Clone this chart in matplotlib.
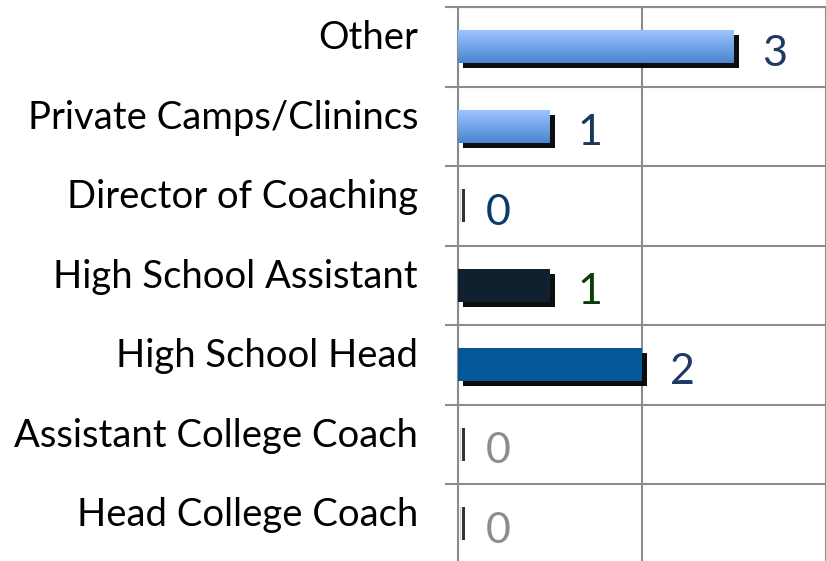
import matplotlib
matplotlib.use("Agg")
import matplotlib.pyplot as plt
import matplotlib.patheffects as pe
import numpy as np
from matplotlib.colors import LinearSegmentedColormap

# data (bottom to top)
categories = ["Head College Coach", "Assistant College Coach", "High School Head",
              "High School Assistant", "Director of Coaching",
              "Private Camps/Clinincs", "Other"]
values = [0, 0, 2, 1, 0, 1, 3]

# styling
bar_colors = ["#333333", "#333333", "#035899", "#11202E", "#333333", "gradient", "gradient"]
label_colors = ["#8C8C8C", "#8C8C8C", "#1F3864", "#0B3D0B", "#0B3A6E", "#17375E", "#1F3864"]

plt.rcParams["font.family"] = ["Lato", "DejaVu Sans"]

fig = plt.figure(figsize=(8.26, 5.61), dpi=100)
ax = fig.add_axes([458 / 826, -2.5 / 561, 368 / 826, 556.5 / 561])

y = np.arange(len(categories))
h = 0.41
grad = LinearSegmentedColormap.from_list("g", ["#9CC3FF", "#4A86D0"])
shadow = [pe.SimplePatchShadow(offset=(3.8, -3.6), shadow_rgbFace="black", alpha=0.95),
          pe.Normal()]

for yi, v, c in zip(y, values, bar_colors):
    if v == 0:
        # zero bars only show a thin shadow stub
        ax.barh(yi, 0.012, left=0.025, height=h, color="#D0D0D0", zorder=3)
        ax.barh(yi, 0.035, left=0.045, height=h, color="#333333", zorder=3)
        continue
    fc = "#4A86D0" if c == "gradient" else c
    b = ax.barh(yi, v, height=h, color=fc, zorder=3)
    b[0].set_path_effects(shadow)
    if c == "gradient":
        g = np.linspace(0, 1, 64).reshape(-1, 1)
        ax.imshow(g, cmap=grad, aspect="auto", zorder=4,
                  extent=(0, v, yi - h / 2, yi + h / 2), interpolation="bilinear")

for yi, v, lc in zip(y, values, label_colors):
    ax.annotate(str(v), (v, yi), xytext=(20, -5), textcoords="offset points",
                ha="left", va="center", fontsize=31, color=lc, zorder=5)

for yi, cat in zip(y, categories):
    ax.text(-40 / 368, yi + 0.11, cat, transform=ax.get_yaxis_transform(),
            ha="right", va="center", fontsize=27.5, color="black")

ax.set_xlim(0, 4)
ax.set_ylim(-0.5, 6.5)
ax.set_xticks([0, 2, 4])
ax.set_yticks([])
ax.set_yticks(np.arange(-0.5, 7, 1), minor=True)
ax.tick_params(axis="x", length=0, labelbottom=False)
ax.tick_params(axis="y", which="minor", length=9.5, width=1.5, color="#8C8C8C",
               labelleft=False)
ax.grid(axis="x", color="#8C8C8C", linewidth=1.5, zorder=1)
ax.grid(axis="y", which="minor", color="#8C8C8C", linewidth=1.5, zorder=1)
ax.set_axisbelow(True)
for s in ["right", "bottom"]:
    ax.spines[s].set_visible(False)
for s in ["left", "top"]:
    ax.spines[s].set_color("#8C8C8C")
    ax.spines[s].set_linewidth(1.5)

fig.savefig("out.png", dpi=100)
